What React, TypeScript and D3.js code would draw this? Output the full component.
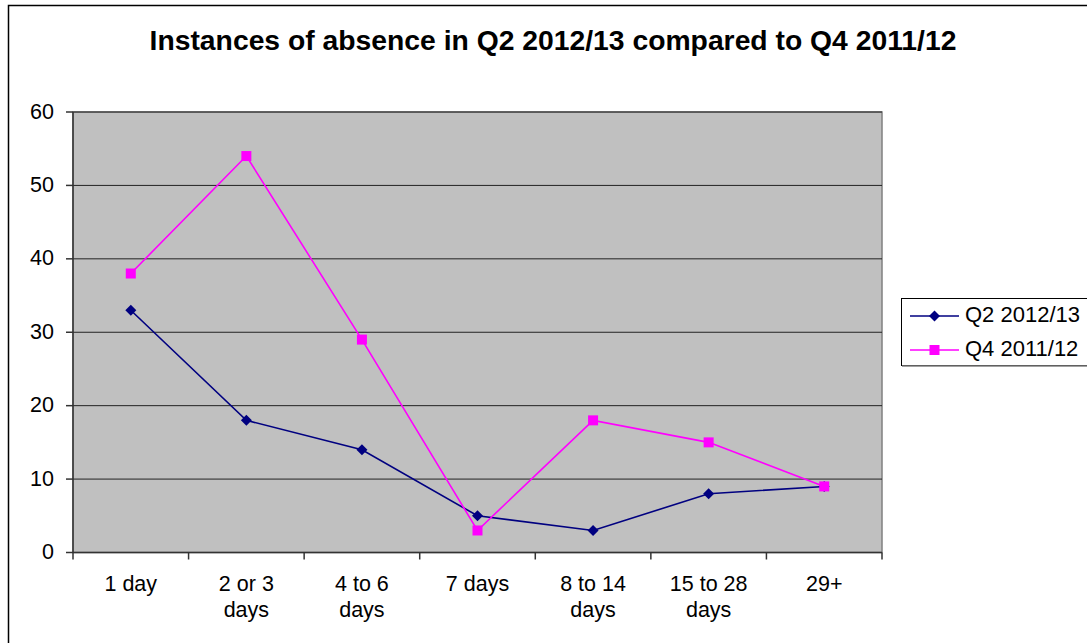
import React from "react";
import * as d3 from "d3";

const categories = [
  ["1 day"],
  ["2 or 3", "days"],
  ["4 to 6", "days"],
  ["7 days"],
  ["8 to 14", "days"],
  ["15 to 28", "days"],
  ["29+"],
];
const q2Values = [33, 18, 14, 5, 3, 8, 9];
const q4Values = [38, 54, 29, 3, 18, 15, 9];
const yTicks = [0, 10, 20, 30, 40, 50, 60];

const W = 1087;
const H = 643;
const plot = { left: 73, right: 882, top: 112, bottom: 552.5 };
const font = "Liberation Sans, Arial, sans-serif";
const navy = "#000080";
const pink = "#FF00FF";

export default function App() {
  const x = d3
    .scaleBand<number>()
    .domain(d3.range(categories.length))
    .range([plot.left, plot.right])
    .padding(0);
  const y = d3.scaleLinear().domain([0, 60]).range([plot.bottom, plot.top]);
  const cx = (i: number) => (x(i) as number) + x.bandwidth() / 2;
  const line = d3
    .line<number>()
    .x((_, i) => cx(i))
    .y((d) => y(d));

  const diamond = (px: number, py: number, r: number) =>
    `M${px},${py - r}L${px + r},${py}L${px},${py + r}L${px - r},${py}Z`;

  return (
    <svg
      width={W}
      height={H}
      style={{ position: "absolute", left: 0, top: 0, background: "#fff" }}
      fontFamily={font}
    >
      <rect x={8.5} y={5.5} width={1200} height={800} fill="#fff" stroke="#000" strokeWidth={1.5} />
      <text x={553} y={50} textAnchor="middle" fontSize={28.3} fontWeight="bold" fill="#000">
        Instances of absence in Q2 2012/13 compared to Q4 2011/12
      </text>

      {/* plot area */}
      <rect
        x={plot.left}
        y={plot.top}
        width={plot.right - plot.left}
        height={plot.bottom - plot.top}
        fill="#C0C0C0"
        stroke="#808080"
        strokeWidth={1.5}
      />
      {yTicks.slice(1).map((t) => (
        <line key={t} x1={plot.left} x2={plot.right} y1={y(t)} y2={y(t)} stroke="#222" strokeWidth={1} />
      ))}

      {/* y axis */}
      <line x1={plot.left} x2={plot.left} y1={plot.top} y2={plot.bottom} stroke="#333" strokeWidth={1.5} />
      {yTicks.map((t) => (
        <g key={t}>
          <line x1={plot.left - 7} x2={plot.left} y1={y(t)} y2={y(t)} stroke="#333" strokeWidth={1.5} />
          <text x={54} y={y(t) + 6.5} textAnchor="end" fontSize={21.5} fill="#000">
            {t}
          </text>
        </g>
      ))}

      {/* x axis */}
      <line x1={plot.left} x2={plot.right} y1={plot.bottom} y2={plot.bottom} stroke="#333" strokeWidth={1.5} />
      {d3.range(categories.length + 1).map((i) => {
        const xx = plot.left + i * x.bandwidth();
        return <line key={i} x1={xx} x2={xx} y1={plot.bottom} y2={plot.bottom + 7} stroke="#333" strokeWidth={1.5} />;
      })}
      {categories.map((lines, i) => (
        <text key={i} x={cx(i)} textAnchor="middle" fontSize={21.5} fill="#000">
          {lines.map((l, j) => (
            <tspan key={j} x={cx(i)} y={591 + j * 26}>
              {l}
            </tspan>
          ))}
        </text>
      ))}

      {/* series */}
      <path d={line(q2Values) || ""} fill="none" stroke={navy} strokeWidth={1.6} />
      <path d={line(q4Values) || ""} fill="none" stroke={pink} strokeWidth={1.6} />
      {q2Values.map((v, i) => (
        <path key={i} d={diamond(cx(i), y(v), 5.5)} fill={navy} />
      ))}
      {q4Values.map((v, i) => (
        <rect key={i} x={cx(i) - 5} y={y(v) - 5} width={10} height={10} fill={pink} />
      ))}

      {/* legend */}
      <rect x={901.5} y={298.5} width={200} height={67} fill="#fff" stroke="#000" strokeWidth={1} />
      <line x1={902} x2={1200} y1={366} y2={366} stroke="#808080" strokeWidth={1.5} />
      <line x1={910} x2={959} y1={316} y2={316} stroke={navy} strokeWidth={1.6} />
      <path d={diamond(934.5, 316, 5.5)} fill={navy} />
      <text x={965} y={322} fontSize={22} fill="#000">Q2 2012/13</text>
      <line x1={910} x2={959} y1={350} y2={350} stroke={pink} strokeWidth={1.6} />
      <rect x={929.5} y={345} width={10} height={10} fill={pink} />
      <text x={965} y={356} fontSize={22} fill="#000">Q4 2011/12</text>
    </svg>
  );
}
